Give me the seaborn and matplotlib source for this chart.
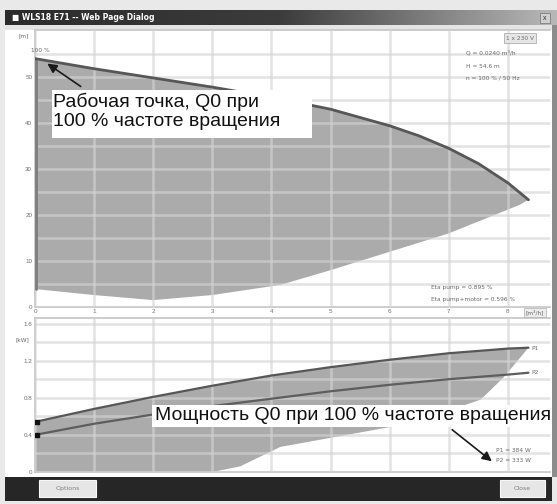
import numpy as np
import pandas as pd
import seaborn as sns
import matplotlib.pyplot as plt
from matplotlib.patches import Rectangle

# pump curve at 100 % speed (Q in m3/h, H in m)
q_max = [0, 1, 2, 3, 4, 5, 6, 6.5, 7, 7.5, 8, 8.35]
h_max = [54.0, 51.8, 49.8, 47.8, 45.6, 43.0, 39.4, 37.2, 34.5, 31.2, 27.0, 23.3]
# lower edge of the operating range (min speed)
q_min = [0, 1, 2, 3, 4.15, 5, 6, 7, 8.2, 8.35]
h_min = [3.9, 2.6, 1.5, 2.6, 4.8, 8.0, 12.0, 16.0, 22.2, 23.3]

# power curves (kW)
q_pow = [0, 1, 2, 3, 4, 5, 6, 7, 8, 8.35]
p1 = [0.54, 0.68, 0.81, 0.93, 1.04, 1.13, 1.21, 1.28, 1.33, 1.34]
p2 = [0.40, 0.52, 0.62, 0.71, 0.79, 0.87, 0.94, 1.00, 1.05, 1.07]
q_pmin = [0, 3.0, 3.47, 4.15, 6.4, 7.54, 7.93, 8.35]
p_min = [0, 0, 0.06, 0.27, 0.53, 0.78, 1.02, 1.34]

x_ticks = [0, 1, 2, 3, 4, 5, 6, 7, 8]
h_ticks = [0, 10, 20, 30, 40, 50]
p_ticks = [0, 0.4, 0.8, 1.2, 1.6]
p_tick_labels = ["0", "0.4", "0.8", "1.2", "1.6"]

W, H = 557, 504


def fx(x):
    return x / W


def fy(y):
    return 1 - y / H


def frame_rect(x0, y0, x1, y1, color, z=-2, **kw):
    # rectangle given in screen pixels (y down)
    fig.patches.append(Rectangle((fx(x0), fy(y1)), (x1 - x0) / W, (y1 - y0) / H,
                                 transform=fig.transFigure, facecolor=color, zorder=z, **kw))


sns.set_style("white")
plt.rcParams['font.family'] = ['Liberation Sans', 'DejaVu Sans']

fig = plt.figure(figsize=(W / 100, H / 100), dpi=100)
fig.patch.set_facecolor("#e9e9e9")

# window frame
frame_rect(5, 25, 552, 477, "white", edgecolor="none")
frame_rect(5, 25, 552, 30, "#e4e4e4", edgecolor="none")
frame_rect(552, 10, 557, 477, "#8c8c8c", edgecolor="none")
frame_rect(5, 477, 552, 501, "#262626", edgecolor="none")

# title bar with gradient
tax = fig.add_axes([fx(5), fy(25), fx(552), 15 / H])
grad = np.linspace(0, 1, 256).reshape(1, -1)
tax.imshow(grad, aspect="auto", cmap=sns.blend_palette(["#2b2b2b", "#3c3c3c", "#b8b8b8"], as_cmap=True))
tax.axis("off")
fig.text(fx(12), fy(17.5), "\u25a0 WLS18 E71 -- Web Page Dialog", color="white", fontsize=5.5,
         fontweight="bold", va="center", family=["DejaVu Sans"])
frame_rect(540, 13, 550, 23, "#d0d0d0", z=3, edgecolor="#707070", lw=0.5)
fig.text(fx(545), fy(18), "x", color="#303030", fontsize=5, ha="center", va="center")

grid_kw = dict(color="#d4d4d4", alpha=0.65, lw=1.8)
label_c = "#707070"

# ---- head chart ----
ax = fig.add_axes([fx(35), fy(307), (550 - 35) / W, (307 - 30) / H])
ax.fill(q_max + q_min[::-1], h_max + h_min[::-1], color="#ababab", lw=0, zorder=1)
ax.plot([0.02, 0.02], [h_min[0], h_max[0]], color="#7c7c7c", lw=2, zorder=3)
sns.lineplot(x=q_max, y=h_max, ax=ax, color="#575757", lw=2, sort=False, zorder=4)
ax.set_xlim(0, 515 / 59.1)
ax.set_ylim(0, 277 / 4.6)
ax.set_xticks(x_ticks)
ax.set_yticks(h_ticks)
ax.set_yticks(np.arange(5, 60, 10), minor=True)
ax.grid(True, which="both", **grid_kw)
ax.set_axisbelow(False)
ax.tick_params(axis="both", which="both", length=0, labelsize=4.5, labelcolor=label_c, pad=2)
ax.tick_params(axis="x", pad=1.5)
for s in ax.spines.values():
    s.set_color("#c4c4c4")
    s.set_linewidth(1.2)
ax.spines["right"].set_visible(False)
ax.set_xlabel("")
ax.set_ylabel("")

# ---- power chart ----
bx = fig.add_axes([fx(35), fy(472), (550 - 35) / W, (472 - 318) / H])
bx.fill(q_pow + q_pmin[::-1], p1 + p_min[::-1], color="#ababab", lw=0, zorder=1)
df = pd.DataFrame({"Q": q_pow * 2, "P": p1 + p2, "curve": ["P1"] * len(q_pow) + ["P2"] * len(q_pow)})
sns.lineplot(data=df, x="Q", y="P", hue="curve", palette=["#575757", "#5e5e5e"], ax=bx, lw=1.6,
             sort=False, legend=False, zorder=4)
bx.plot([0.03, 0.03], [p1[0], p2[0]], ls="none", marker="s", ms=3, color="#111111", zorder=5)
bx.set_xlim(0, 515 / 59.1)
bx.set_ylim(0, 1.66)
bx.set_xticks(x_ticks)
bx.set_yticks(p_ticks)
bx.set_yticklabels(p_tick_labels)
bx.set_yticks(np.arange(0.2, 1.7, 0.4), minor=True)
bx.grid(True, which="both", **grid_kw)
bx.set_axisbelow(False)
bx.tick_params(axis="both", which="both", length=0, labelsize=4.5, labelcolor=label_c, pad=2)
bx.set_xticklabels([])
for s in bx.spines.values():
    s.set_color("#c4c4c4")
    s.set_linewidth(1.2)
bx.spines["right"].set_visible(False)
bx.set_xlabel("")
bx.set_ylabel("")

small = dict(fontsize=4.2, color="#6a6a6a", family=["DejaVu Sans"])
fig.text(fx(24), fy(36), "[m]", ha="center", va="center", **small)
fig.text(fx(22), fy(340), "[kW]", ha="center", va="center", **small)
fig.text(fx(31), fy(50), "100 %", va="center", **small)
fig.text(fx(535), fy(312.5), "[m\u00b3/h]", ha="center", va="center",
         bbox=dict(boxstyle="square,pad=0.3", fc="#ececec", ec="#b0b0b0", lw=0.5), **small)
fig.text(fx(520), fy(38), "1 x 230 V", ha="center", va="center",
         bbox=dict(boxstyle="square,pad=0.4", fc="#e6e6e6", ec="#a0a0a0", lw=0.5), **small)
fig.text(fx(466), fy(53), "Q = 0.0240 m\u00b3/h", va="center", **small)
fig.text(fx(466), fy(66), "H = 54.6 m", va="center", **small)
fig.text(fx(466), fy(78), "n = 100 % / 50 Hz", va="center", **small)
fig.text(fx(431), fy(287), "Eta pump = 0.895 %", va="center", **small)
fig.text(fx(431), fy(300), "Eta pump+motor = 0.596 %", va="center", **small)
fig.text(fx(531), fy(348), "P1", va="center", **small)
fig.text(fx(531), fy(373), "P2", va="center", **small)
fig.text(fx(496), fy(451), "P1 = 384 W", va="center", **small)
fig.text(fx(496), fy(461), "P2 = 333 W", va="center", **small)

# annotation boxes
frame_rect(52, 90, 312, 138, "white", z=5, edgecolor="none")
fig.text(fx(53), fy(102), "Рабочая точка, Q0 при", fontsize=14, color="#111111", va="center", zorder=6)
fig.text(fx(53), fy(122), "100 % частоте вращения", fontsize=14, color="#111111", va="center", zorder=6)
frame_rect(152, 405, 548, 427, "white", z=5, edgecolor="none")
fig.text(fx(155), fy(415), "Мощность Q0 при 100 % частоте вращения", fontsize=14, color="#111111",
         va="center", zorder=6)

arrow = dict(arrowstyle="-|>", color="#1a1a1a", lw=1.2, mutation_scale=14)
ax.annotate("", xy=(45, H - 62), xytext=(83, H - 88), xycoords="figure pixels",
            textcoords="figure pixels", arrowprops=arrow, zorder=7)
bx.annotate("", xy=(494, H - 463), xytext=(450, H - 428), xycoords="figure pixels",
            textcoords="figure pixels", arrowprops=arrow, zorder=7)

# buttons in the bottom bar
for x0, x1, name in [(39, 96, "Options"), (500, 545, "Close")]:
    frame_rect(x0, 480, x1, 497, "#e6e6e6", z=3, edgecolor="#f8f8f8", lw=0.8)
    fig.text(fx((x0 + x1) / 2), fy(488.5), name, ha="center", va="center", fontsize=4.5,
             color="#808080", zorder=4, family=["DejaVu Sans"])

fig.savefig("out.png", dpi=100, facecolor=fig.get_facecolor())
